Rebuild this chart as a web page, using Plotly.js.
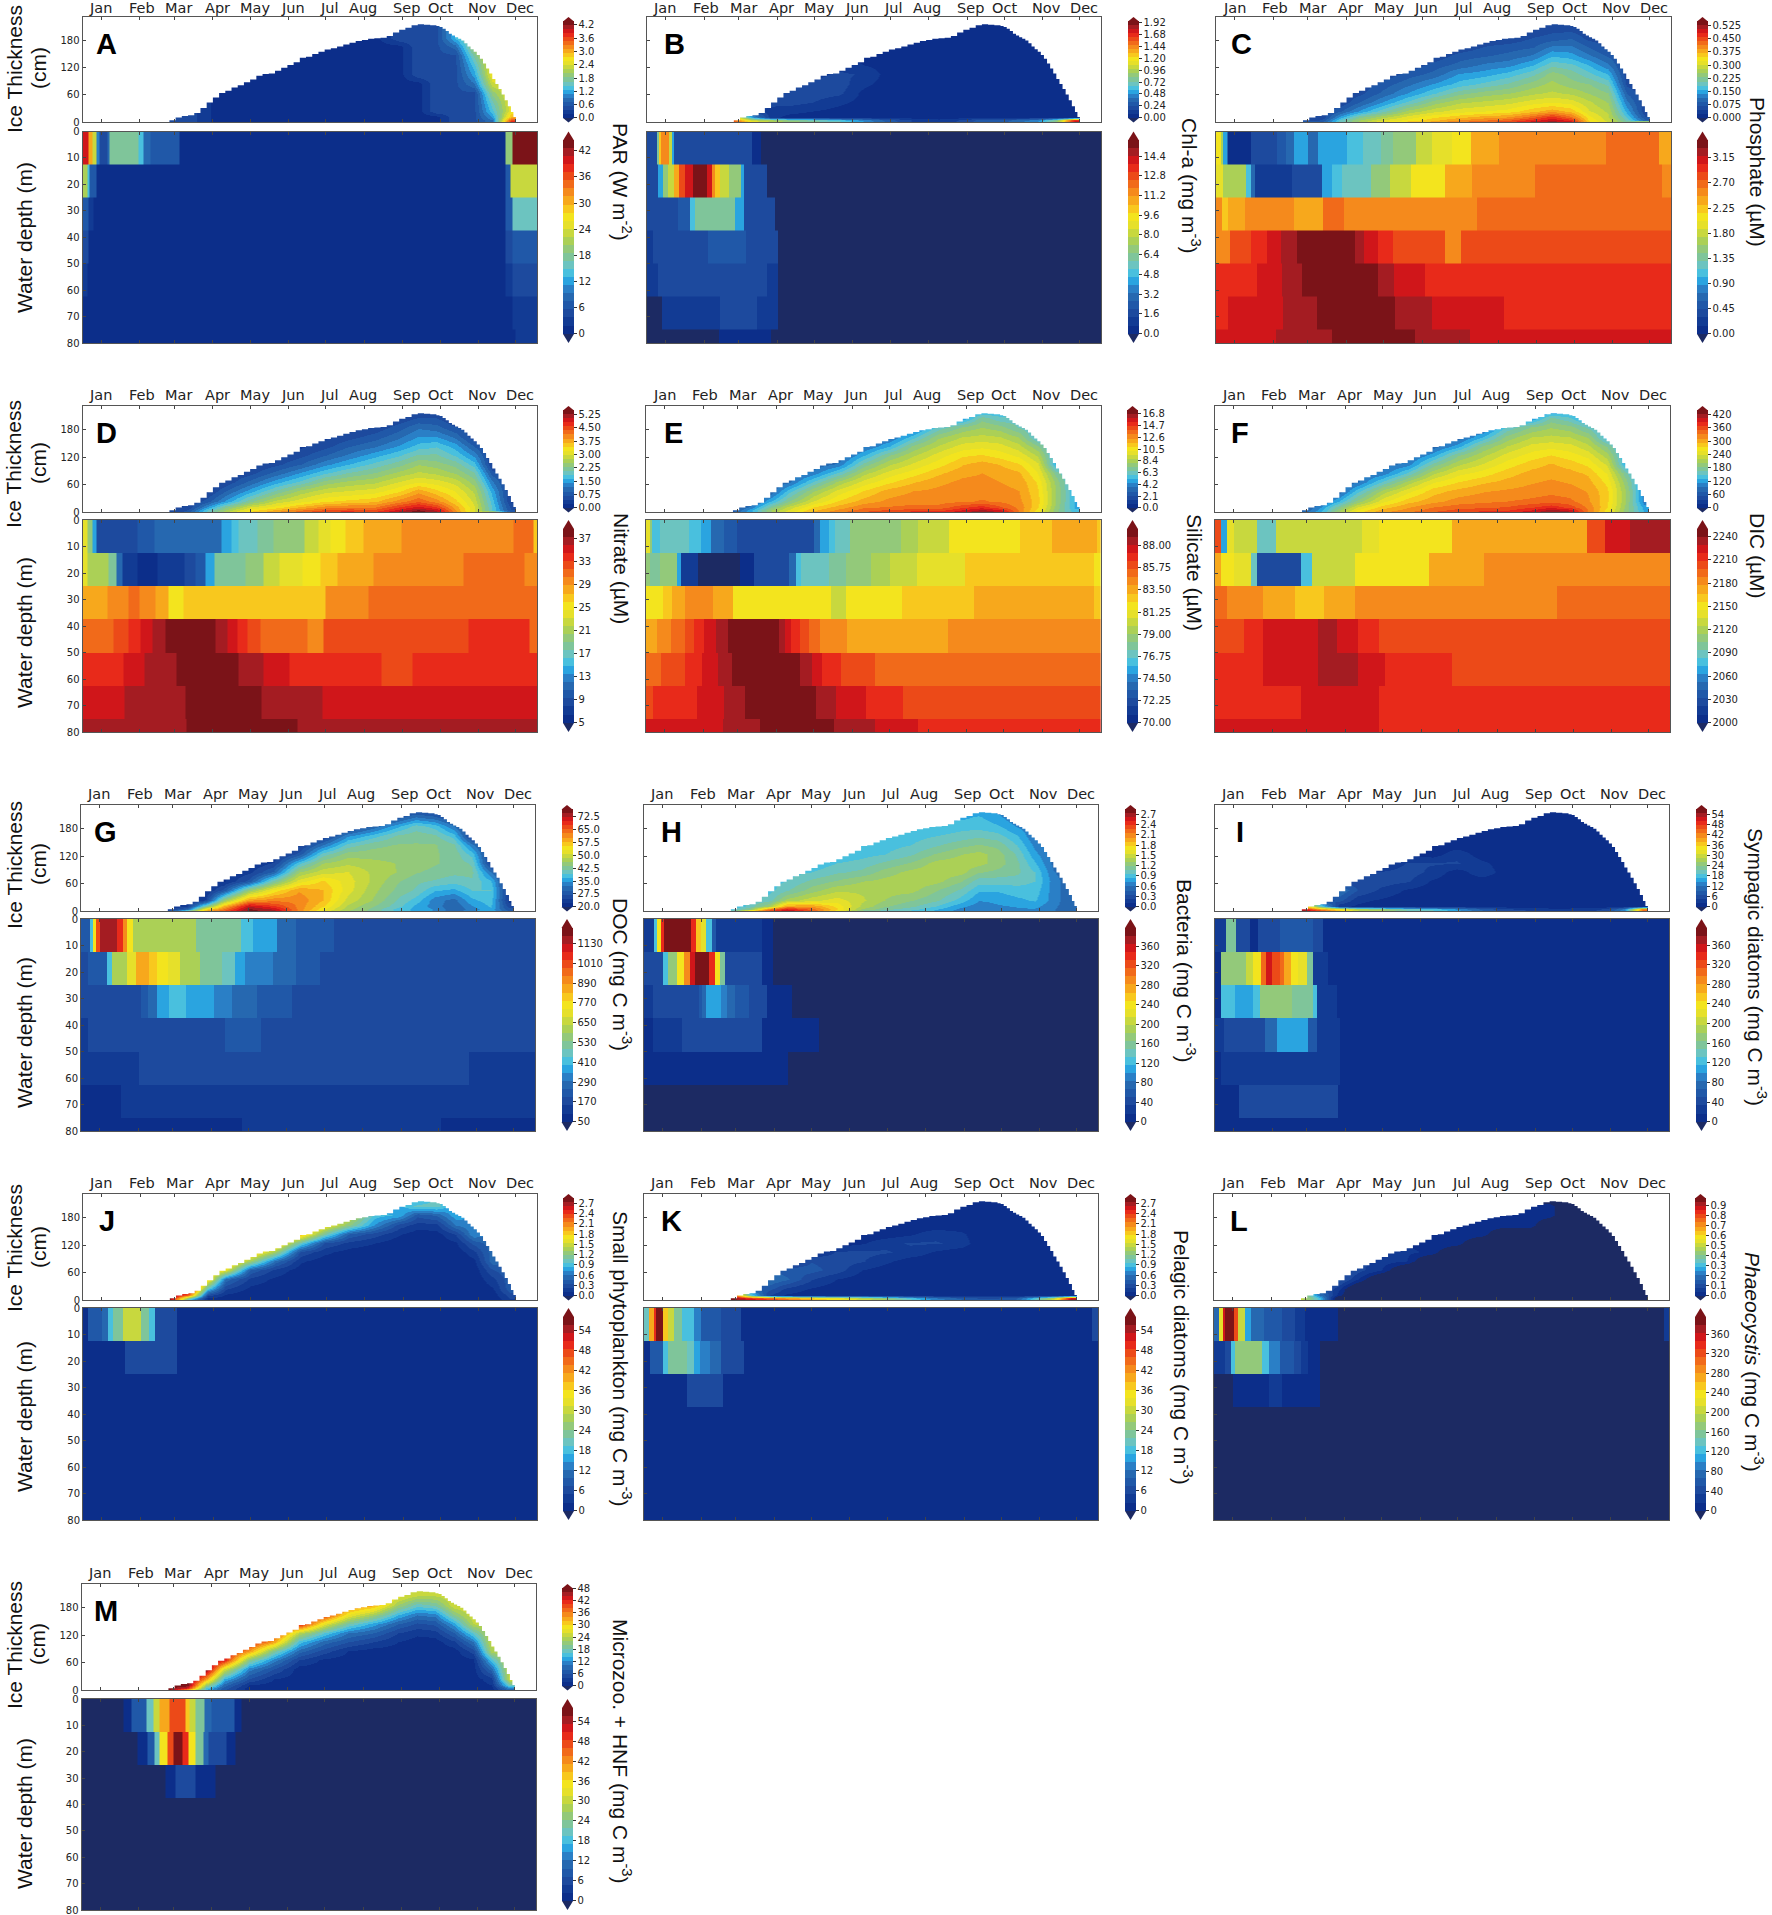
<!DOCTYPE html>
<html><head><meta charset="utf-8">
<script src="https://cdn.plot.ly/plotly-3.0.1.min.js"></script>
<style>html,body{margin:0;padding:0;background:#fff}</style></head>
<body><div id="chart" style="width:1772px;height:1915px"></div>
<script>
const W=1772,H=1915;
const monthNames=['Jan','Feb','Mar','Apr','May','Jun','Jul','Aug','Sep','Oct','Nov','Dec'];
const monthTickDays=[0,31,59,90,120,151,181,212,243,273,304,334];
const monthLabelDays=[-0.5,32.7,62.6,93.5,123.8,154.3,184,211,246,273,307,337.5];
const levelColors=['#0c2e8a','#123b94','#1d4a9e','#2058a8','#2668b0','#2a7fc6','#2aa4e0','#49c0de','#6cc4c0','#7fc59a','#93c97a','#abd056','#c8d83e','#e6e02a','#f3e41e','#f8c81e','#f7a81c','#f58a1c','#f16a1a','#ec4a18','#e82a1a','#d0161a','#a41c22','#7b1318'];
const underColor='#1c2a63';
// ice outline: thickness (cm) from each day onward
const iceDays=[55,60,65,70,75,80,85,90,95,100,105,110,115,120,125,130,135,140,145,150,155,160,165,170,175,180,185,190,195,200,205,210,215,220,225,230,235,240,245,250,255,260,265,270,272.5,275,277.5,280,282.5,285,287.5,290,292.5,295,297.5,300,302.5,305,307.5,310,312.5,315,317.5,320,322.5,325,327.5,330,332,334];
const iceThickness=[4,10,13,15,20,31,43,54,64,69,76,81,88,94,102,106,107,113,120,126,132,142,144,150,155,160,163,167,171,175,179,181,184,185,186,190,198,204,208,214,216,215,214,212,210,206,201,195,191,187,184,180,174,167,161,155,148,140,129,118,107,95,84,73,61,48,35,22,11,0];
// coarse sea-ice grid: columns are listed bottom-up, and the last value stands for anything above the ice top
const iceColumnDays=[55,70,85,100,120,140,160,180,200,220,240,255,270,285,300,315,330];
const iceRowDepths=[0,4,10,25,45,65,85,105,125,145,165,185,205,225];
const waterDepthEdges=[0,12.5,25,37.5,50,62.5,75,87.5];

const iceA=[[.5,.5,.5],[.5,.5,.5,.5],[.2],[.1],[.1],[.1],[.1],[.1],[.1],[.1],[.1,.1,.1,.1,.1,.1,.1,.1,.1,.1,.1,.5],[.1,.1,.1,.1,.1,.1,.1,.5],[.1,.1,.1,.5],[.5,.5,.5,.5,.5,.5,.5,.5,.5,.5,.8,1.3],[.5,.5,.5,.5,.5,.5,.9,1.2,1.4,1.7,2],[.9,.9,1.1,1.4,1.6,1.9,2.3,2.6],[3.8,3.6,3,2.5]];
const iceB=[[1.6,1.5,1.2],[1.2,1,.5,.2,.2],[1,.9,.1,.12,.2],[.9,.8,.06,.1,.2,.18,.15],[.8,.7,.05,.08,.16,.2,.18,.14],[.7,.6,.04,.05,.1,.18,.2,.18,.12],[.5,.45,.04,.04,.05,.05,.1,.15,.08,.05],[.3,.28,.04],[.15,.15,.04],[.1,.1,.04],[.2,.18,.04],[.3,.28,.04],[.3,.28,.04],[.4,.36,.04],[.5,.45,.04],[.9,.8,.04],[1.8,1.7,.04]];
const iceC=[[.08,.06,.05],[.1,.07,.05,.05],[.2,.19,.15,.09,.05,.05],[.26,.25,.22,.14,.09,.06,.05],[.33,.3,.27,.2,.14,.1,.08,.05],[.36,.33,.31,.26,.19,.14,.11,.08,.05],[.38,.36,.34,.29,.24,.18,.14,.1,.08,.05],[.42,.39,.36,.31,.27,.22,.17,.14,.1,.08,.05],[.44,.41,.38,.32,.28,.24,.19,.15,.12,.09,.07,.05],[.46,.43,.39,.33,.29,.25,.21,.17,.13,.1,.08,.05,.05],[.5,.47,.43,.36,.31,.27,.24,.2,.16,.12,.09,.07,.05],[.52,.5,.47,.38,.32,.28,.26,.24,.2,.16,.12,.08,.06,.05],[.5,.47,.42,.36,.31,.27,.24,.22,.19,.15,.12,.09,.06,.05],[.35,.34,.33,.3,.28,.25,.23,.19,.16,.12,.09,.06,.05],[.3,.29,.28,.27,.25,.23,.2,.16,.12,.09,.06],[.22,.2,.18,.15,.12,.09,.06,.05],[.4,.1,.07,.05]];
const iceD=[[.5,.5,.4],[.8,.7,.5,.4],[1.9,1.8,1.4,.8,.4,.4],[2.7,2.5,2.2,1.4,.9,.5,.4],[3.5,3.3,3,2.2,1.5,1,.6,.4],[3.9,3.7,3.3,2.8,2.1,1.5,1,.6,.4],[4.3,4.1,3.7,3.1,2.6,1.9,1.4,.9,.6,.4],[4.7,4.4,4,3.4,2.9,2.4,1.8,1.3,.9,.6,.4],[4.7,4.5,4.1,3.5,3,2.6,2.1,1.6,1.2,.9,.6,.4],[4.6,4.4,4.1,3.6,3.1,2.7,2.3,1.9,1.5,1.1,.8,.5,.4],[5.2,4.9,4.6,4,3.4,3,2.6,2.2,1.8,1.4,1.1,.8,.5],[5.45,5.3,4.9,4.3,3.8,3.2,2.8,2.5,2.1,1.7,1.4,1.1,.7,.4],[5.2,5,4.6,4,3.5,3.1,2.7,2.4,2.1,1.8,1.4,1,.7,.4],[4,3.9,3.8,3.5,3.2,2.9,2.5,2.2,1.8,1.5,1.1,.7,.4],[3,3,3,2.9,2.7,2.4,2.1,1.7,1.3,.9,.5],[3,1.8,1.8,1.7,1.5,1.2,.8,.4],[.8,.7,.6,.4]];
const iceE=[[3,2.5,2],[5,5,4,3],[8,8,7,5,3,3],[10,9.6,9,7.2,5.5,3.5,3],[12,11.5,11,9.5,8,6,4,3],[13,12.6,12,11,9.8,8.3,6,3.8,3],[14,13.5,13,12,11,9.8,8.5,6.8,5,3.5],[14.8,14,13.2,12.6,12,10.8,9.8,8.6,7.2,5,3.5],[15,14.2,13.4,12.8,12.4,11.6,10.6,9.6,8.6,7.4,5.5,3.5],[15,14.2,13.4,12.8,12.6,12.2,11.5,10.6,9.8,8.8,7.8,6,3.5],[16,15.4,14.4,13,12.8,12.6,12.2,11.6,10.8,9.8,8.8,7.4,4.5],[16.8,16.2,15,13.2,12.8,12.6,12.4,12,11,10,9,8,7,4],[16,15.5,14,13,12.6,12.4,12.2,11.6,10.6,9.8,8.8,7.6,6,5],[13,13,12.9,12.6,12.4,12.2,11.8,11,10,9,8,6.5,6],[10.5,10.6,11,11.2,11,10.8,10.2,9.6,8.6,7.4,5.5],[7.5,7.6,7.8,8,8,7.8,7,5],[5.5,5.3,5,5]];
const iceF=[[80,70,60],[130,120,110,80],[210,200,180,130,80,80],[270,260,240,190,140,90,80],[310,300,285,250,210,150,100,80],[330,320,310,285,250,210,150,100,80],[350,340,330,305,285,255,215,170,120,80],[370,355,340,320,300,275,250,215,180,120,80],[375,360,345,325,310,290,265,240,215,185,130,80],[380,365,350,330,315,300,285,265,245,220,190,150,90],[400,385,365,335,320,310,300,285,265,245,220,185,110],[425,410,380,340,325,315,305,295,275,250,225,200,170,90],[410,395,360,335,320,310,300,285,265,245,220,190,150,110],[330,330,325,315,310,300,290,270,250,225,200,160,110],[265,268,275,280,280,270,255,235,210,180,130],[190,192,195,200,200,190,170,120],[130,125,120,100]];
const iceG=[[27,24,22],[45,30,24,22],[60,55,42,25,22,22],[66,63,58,45,28,22,22],[76,75,72,60,45,28,24,22],[74,72,68,62,54,42,30,25,22],[62,62,62,62,60,52,46,38,28,24],[52,54,56,58,58,56,50,46,40,32,24],[46,47,48,50,52,52,51,48,45,40,34,24],[43,43,44,46,47,48,48,47,45,43,38,30,24],[38,38,40,41,43,44,46,46,45,44,42,36,28,24],[36,36,36,38,41,42,44,45,45,44,43,40,32,24],[34,34,33,33,37,41,43,44,44,44,42,38,30,24],[30,30,30,31,36,40,42,43,43,42,38,32,26,24],[34,33,34,36,39,41,42,41,38,33,25],[36,36,37,38,39,37,32,25],[30,28,26,24]];
const iceH=[[1,.9,.8],[2,1.2,1,1],[2.4,2.1,1.3,1,.9,.9],[2.7,2.5,2,1.35,1.05,.95,.9],[2.3,2.2,2,1.5,1.25,1.1,.95,.85],[1.7,1.8,1.75,1.6,1.4,1.2,1.05,.95,.85],[1.1,1.3,1.4,1.45,1.4,1.3,1.1,1,.9,.85],[.95,1.1,1.2,1.3,1.35,1.35,1.25,1.1,.95,.9,.85],[.9,1,1.1,1.2,1.35,1.38,1.35,1.2,1.05,.95,.9,.8],[.8,.85,.95,1.1,1.2,1.35,1.38,1.35,1.2,1.05,.95,.85,.8],[.65,.68,.75,.9,1.05,1.2,1.35,1.38,1.3,1.15,1,.9,.8],[.62,.62,.65,.72,.85,1,1.2,1.35,1.35,1.2,1.05,.9,.85,.7],[.68,.68,.7,.74,.85,1,1.15,1.25,1.25,1.15,1,.85,.75,.65],[.7,.7,.72,.8,.9,1,1.1,1.1,1.05,.95,.85,.7,.6],[.7,.7,.75,.85,.9,.95,.95,.85,.75,.68,.6],[.6,.6,.62,.65,.65,.65,.6,.55],[.5,.5,.5,.5]];
const iceI=[[56,52,40],[50,40,20,5],[38,34,3,8,12,5],[30,27,2,3,7,6,4],[28,25,1,2,4,6,5,2],[22,20,1,1,2,5,6,5,2],[20,18,1,1,1,2,4,5,1,1],[16,14,1,1,1,1,1,5,4,1,1],[10,9,1,1,1,1,4,3,1],[6,5,1],[5,4,1],[3,3,1],[3,3,1],[4,4,1],[6,5,1],[15,13,1],[45,42,1]];
const iceJ=[[2.8,2.8,2.8],[.8,1.2,2.2,2.8],[.05,.1,.3,.9,1.8,1.9],[.05,.06,.1,.25,.55,1.6,2],[.03,.03,.03,.08,.2,.45,1.3,1.9],[.03,.03,.03,.05,.09,.2,.55,1.3,1.9],[.03,.03,.03,.03,.03,.05,.14,.33,1,1.9],[.03,.03,.03,.03,.03,.03,.05,.15,.35,1.1,1.7],[.03,.03,.03,.03,.03,.03,.03,.06,.2,.45,1.2,1.5],[.03,.03,.03,.03,.03,.03,.03,.03,.12,.3,.7,.9,.6],[.03,.03,.03,.03,.03,.03,.03,.03,.03,.13,.3,.8,.8],[.03,.03,.03,.03,.03,.03,.03,.03,.03,.05,.18,.4,1,.7],[.03,.03,.03,.03,.03,.03,.03,.03,.03,.07,.2,.5,1,1],[.03,.03,.03,.03,.03,.03,.03,.03,.1,.25,.6,.8,.7],[.03,.03,.03,.03,.03,.03,.08,.2,.4,.7,.7],[.03,.03,.05,.1,.2,.35,.55,.55],[.2,.25,.3,.45]];
const iceK=[[2.8,2.8,2.5],[2.7,2.4,1,.5],[2.5,2.2,.25,.4,.6,.5],[2.3,2,.1,.2,.5,.4,.2],[2,1.8,.05,.1,.25,.4,.35,.1],[1.8,1.6,.04,.05,.12,.3,.3,.25,.05],[1.6,1.4,.04,.04,.05,.12,.25,.27,.1,.04],[1.4,1.2,.04,.04,.04,.05,.15,.25,.2,.05,.04],[1,.9,.04,.04,.04,.04,.05,.2,.25,.1,.04],[.7,.6,.04,.04,.04,.04,.04,.1,.25,.2,.04],[.5,.45,.04,.04,.04,.04,.04,.04,.2,.15,.04],[.4,.35,.04],[.4,.35,.04],[.5,.45,.04],[1,.9,.04],[1.6,1.4,.04],[2.8,2.6,.04]];
const iceL=[[.5,.5,.5],[.3,.3,.2,.15],[-.1,-.1,.02,.05,.14,.14],[-.1,-.1,-.1,-.1,.05,.1,.1],[-.1,-.1,-.1,-.1,-.1,.04,.06,.04],[-.1,-.1,-.1,-.1,-.1,-.1,.04,.05,.03],[-.1,-.1,-.1,-.1,-.1,-.1,-.1,.03,.04,.02],[-.1,-.1,-.1,-.1,-.1,-.1,-.1,-.1,.03,.04,.02],[-.1,-.1,-.1,-.1,-.1,-.1,-.1,-.1,-.1,.03,.04,.03],[-.1,-.1,-.1,-.1,-.1,-.1,-.1,-.1,-.1,-.1,.03,.04,.02],[-.1,-.1,-.1,-.1,-.1,-.1,-.1,-.1,-.1,-.1,.03,.04,.02],[-.1,-.1,-.1,-.1,-.1,-.1,-.1,-.1,-.1,-.1,-.1,.03,.03,-.1],[-.1],[-.1],[-.1],[-.1],[-.1]];
const iceM=[[48,48,48],[30,42,48,48],[14,16,22,34,47,47],[6,7,9,14,26,42,44],[1,1,2,6,11,20,34,42],[1,1,1,2,6,11,19,33,40],[1,1,1,1,1,4,9,15,24,42],[1,1,1,1,1,1.5,5,9,16,27,40],[1,1,1,1,1,1,2,6,10,18,28,36],[1,1,1,1,1,1,1,4,8,13,22,33,33],[1,1,1,1,1,1,1,2,4,8,14,22,27],[1,1,1,1,1,1,1,1,2.5,5.5,10,17,24,26],[1,1,1,1,1,1,1,1,3,6.5,11,18.5,24,25],[1,1,1,1,1,1,1,3.5,8,13,20,26,26],[1,1,1,1,1,1.5,5,10,16.5,24,26],[1,1,2,3,9,15,23,25],[8,12,18,26]];

// water rows: pairs of [last day of a block, value in the block]; one row per depth layer
const waterA=[[-10,40,-7,31,-4,24,-1,11,5,5,7,9,30,18,34,13,40,9,52,7,63,6,326,1,331,19,351,44],[-11,21,-9,13,-4,6,326,1,330,6,351,24],[-10,7,-6,3,326,1,331,7,351,15],[-10,5,326,1,331,4,351,7],[-11,3,326,1,331,3,351,5],[331,1,351,3],[334,1,351,2]];
const waterB=[[-7,1.5,-5.5,6,-4,10,3,11.5,5,8,7,4,70,1.9,77,.6,351,-1],[-6,1.8,-2,4.5,2,7,7,8.5,11,10.5,16,12.5,22,14,33,15.5,37,14,40,11.5,44,10,51,8.5,60.5,7,63,4.5,82,1.7,351,-1],[10,1.8,20,2.4,23.5,5,56,6,63.5,4.5,88,1.7,351,-1],[-10,1,34,1.7,65,2.2,91,1.4,351,-1],[-6,.8,30,1.4,82,1.9,91,.8,351,-1],[-3,-1,44,.7,74,1.4,91,.7,351,-1],[43,-1,85,.6,351,-1]];
const waterC=[[-11,2.1,-9,1.6,-6,1,-5,.7,13,.13,34,.35,41,.5,48,.65,59,.9,67,.7,90,.9,103,1.1,118,1.25,127,1.4,146,1.55,159,1.75,175,1.9,190,2.1,213,2.4,299,2.55,341,2.7,351,2.45],[-9,2,9,1.6,13,1.1,16,.6,46,.28,70,.42,78,.9,86,1.1,110,1.3,125,1.55,142,1.8,169,2.1,191,2.35,242,2.5,344,2.67,351,2.5],[-10,2.5,-5,2.2,8,2.43,48,2.6,71,2.45,88,2.67,195,2.5,351,2.67],[-4,2.57,13,2.78,26,3,37,3.13,50,3.27,97,3.42,104,3.27,115,3.13,127,2.95,169,2.78,182,2.6,351,2.78],[18,3,38,3.13,54,3.27,115,3.42,128,3.27,153,3.13,351,3],[-5,3,39,3.13,66,3.27,129,3.42,159,3.27,217,3.13,351,3],[33,3.13,78,3.27,145,3.42,189,3.27,351,3.13]];
const waterD=[[-11,24.5,-7,20,-4,14.4,29,8.4,43,9.4,85,11.4,97,11.7,105,14,111,15.8,126,17.5,139,18.8,164,20.2,175,21.9,185,23.5,197,25.2,211,27,242,28.3,332,29.6,348,30.3,351,27],[-11,24.5,6,20.8,12,17.8,17,11.7,29,7.4,45,6,67,7.4,76,8.4,84,9.7,91,14,116,17.8,131,19.8,144,21.9,162,23.9,177,25.2,190,27,219,28.3,292,29.6,341,31,351,29.3],[5,27.6,22,29.3,31,31,44,29.3,54,27.9,66,25.5,181,27.2,215,28.9,280,30.6,351,31.6],[10,31.3,22,33,32,34,41,35.3,52,36.7,64,37.4,92,38,102,37,110,35.3,118,34,128,32.6,166,31.3,179,30,296,32,345,33.3,351,31.3],[18,33.6,35,35,49,36,61,37,111,38,120,37,131,36,152,35,226,33.6,251,32.6,351,33.6],[19,35,47,36.3,68,37,129,38,149,37,178,36.3,351,35],[27,36.3,69,37,158,38,193,37,351,36.3]];
const waterE=[[-12,81.4,-10,78.9,-4,76.3,20,77,29,75.9,37,75.3,48,73.9,58,72.8,112,71.8,120,72.2,125,73.3,132,75.3,137,76.3,149,77.3,169,78.3,190,78.9,204,79.7,229,80.4,286,81.6,312,82.8,348,83.6,351,82.6],[-12,78.3,-4,77.5,10,78.7,13,75.5,27,71.4,61,69,72,70.8,100,71.8,106,73.9,110,75.9,132,77,146,78,166,78.9,181,79.7,203,80.2,242,81.4,346,82.6,351,81.8],[-1,81.6,6,82.8,16,83.6,39,84.6,48,83.8,55,83.4,134,81.6,146,80.4,191,81.6,249,82.6,346,83.6,351,82.8],[-6,83.4,5,84.2,16,85.2,23.5,86,32,86.7,41,87.7,51,88.5,92,89.3,97,88.5,102,87.7,109,86.7,116,86,125,85.2,147,84.2,228,83.6,351,84.4],[-3,85.2,16,86,30,86.7,43,87.7,54,88.5,109,89.3,119,88.5,127,87.7,142,86.7,169,86,351,85.2],[-9,86,26,86.7,48,87.7,65,88.5,122,89.3,138,88.5,162,87.7,192,86.7,351,86],[47,87.7,77,88.5,136,89.3,169,88.5,204,87.7,351,86.7]];
const waterF=[[-10,2205,-5,2070,0,2138,19,2125,34,2090,54,2130,103,2125,117,2138,176,2155,284,2175,299,2200,319,2220,351,2238],[-10,2175,0,2150,14,2138,19,2090,54,2030,63,2075,98,2125,157,2155,201,2170,351,2180],[-5,2195,24,2180,49,2170,73,2160,98,2175,260,2185,351,2195],[8,2203,24,2212,39,2220,68,2225,83,2235,100,2225,117,2212,351,2203],[24,2210,68,2225,100,2235,122,2225,176,2212,351,2208],[8,2210,54,2218,117,2225,151,2218,351,2212],[117,2225,351,2215]];
const waterG=[[-8,215,-5,400,-3,755,0,990,14,1166,19,1060,22,896,27,755,33,637,78,590,114,497,124,426,132,367,143,344,158,285,173,238,189,200,209,190,351,167],[-9,190,6,238,10,400,22,590,29,730,40,870,46,825,55,780,65,695,81,600,99,530,109,460,117,380,127,330,140,310,158,273,178,226,196,190,351,167],[22,155,33,180,39,238,46,285,56,355,70,400,92,367,107,310,127,262,155,215,180,180,351,155],[-9,130,101,155,130,200,183,167,351,155],[32,109,298,148,351,109],[17,73,112,109,244,120,351,109],[115,73,275,105,351,73]];
const waterH=[[-7,32,-4.5,120,-1,240,1,338,23,386,27,342,31,259,35,219,40,120,43,56,80,32,89,12,351,-1],[0,40,4,120,12,167,17,240,22,287,26,358,37,382,42,342,46,247,50,150,80,40,89,16,351,-1],[-8,28,29,44,32,60,35,80,47,107,52,85,58,72,70,50,84,36,104,8,351,-1],[-8,12,16,24,80,36,92,12,126,4,351,-1],[-1,3,89,12,101,3,351,-1],[351,-1],[351,-1]];
const waterI=[[-6,32,2,158,13,47,20,12,37,36,64,55,72,36,351,2],[-10,12,1,166,10,174,16,198,22,245,26,308,31,348,37,324,41,300,46,268,52,237,59,217,64,158,76,32,351,2],[-10,12,1,126,16,107,21,130,47,178,64,162,67,118,83,32,351,2],[-8,24,25,47,35,75,60,110,67,63,86,32,351,2],[-10,6,86,32,351,2],[4,6,84,34,351,2],[351,2]];
const waterJ=[[-11,1,0,8,5,12,9,17,17,24,32,29,38,24,43,17,61,7,351,1],[19,1,61,5,351,1],[351,1],[351,1],[351,1],[351,1],[351,1]];
const waterK=[[-11,20,-7,40,-5,49,0,56,4,38,9,29,16,24,25,17,31,14,47,9,63,6,346,1,351,6],[-10,1,0,9,4,17,20,22,25,20,30,16,38,13,47,10,66,6,351,1],[20,1,49,6,351,1],[351,1],[351,1],[351,1],[351,1]];
const waterL=[[-11,80,-8,229,-6,348,1,383,4,316,10,198,15,110,25,80,40,55,50,35,58,24,70,14,85,8,347,-1,351,20],[-6,20,-1,40,2,118,24,170,29,118,38,85,49,60,55,38,61,24,66,10,70,4,351,-1],[0,-1,29,14,40,20,70,6,351,-1],[351,-1],[351,-1],[351,-1],[351,-1]];
const waterM=[[19,-1,25,2,37,8,43,20,48,29,56,39,69,46,72,38,77,29,84,22,90,10,108,8,114,2,351,-1],[30,-1,38,2,44,8,48,20,54,35,59,46,66,56,71,49,77,36,83,24,87,12,102,6,109,2,351,-1],[53,-1,61,2,77,5,93,2,351,-1],[351,-1],[351,-1],[351,-1],[351,-1]];

// colour bar tick labels
const tA=['0.0','0.6','1.2','1.8','2.4','3.0','3.6','4.2'], bA=['0','6','12','18','24','30','36','42'];
const tB=['0.00','0.24','0.48','0.72','0.96','1.20','1.44','1.68','1.92'], bB=['0.0','1.6','3.2','4.8','6.4','8.0','9.6','11.2','12.8','14.4'];
const tC=['0.000','0.075','0.150','0.225','0.300','0.375','0.450','0.525'], bC=['0.00','0.45','0.90','1.35','1.80','2.25','2.70','3.15'];
const tD=['0.00','0.75','1.50','2.25','3.00','3.75','4.50','5.25'], bD=['5','9','13','17','21','25','29','33','37'];
const tE=['0.0','2.1','4.2','6.3','8.4','10.5','12.6','14.7','16.8'], bE=['70.00','72.25','74.50','76.75','79.00','81.25','83.50','85.75','88.00'];
const tF=['0','60','120','180','240','300','360','420'], bF=['2000','2030','2060','2090','2120','2150','2180','2210','2240'];
const tG=['20.0','27.5','35.0','42.5','50.0','57.5','65.0','72.5'], bG=['50','170','290','410','530','650','770','890','1010','1130'];
const t27=['0.0','0.3','0.6','0.9','1.2','1.5','1.8','2.1','2.4','2.7'], b360=['0','40','80','120','160','200','240','280','320','360'];
const t54=['0','6','12','18','24','30','36','42','48','54'];
const tL=['0.0','0.1','0.2','0.3','0.4','0.5','0.6','0.7','0.8','0.9'];
const tM=['0','6','12','18','24','30','36','42','48'];
const iceTicks=[0,60,120,180], iceTickText=['0','60','120','180'];
const waterTicks=[0,10,20,30,40,50,60,70,80], waterTickText=['0','10','20','30','40','50','60','70','80'];

const panels=[
 {id:'A',ice:iceA,water:waterA,x:[82.5,537],r:0,c:1,cb:563,ti:[0,4.38],bi:[0,44.5],tt:tA,bt:bA,title:'PAR (W m<sup>-2</sup>)',tx:622,ty:182},
 {id:'B',ice:iceB,water:waterB,x:[647,1101],r:0,c:2,cb:1128,ti:[0,1.95],bi:[0,15.7],tt:tB,bt:bB,title:'Chl-a (mg m<sup>-3</sup>)',tx:1191,ty:186},
 {id:'C',ice:iceC,water:waterC,x:[1216,1671],r:0,c:3,cb:1697,ti:[0,.55],bi:[0,3.47],tt:tC,bt:bC,title:'Phosphate (µM)',tx:1758,ty:172},
 {id:'D',ice:iceD,water:waterD,x:[82.5,537],r:1,c:1,cb:563,ti:[0,5.5],bi:[5,38.7],tt:tD,bt:bD,title:'Nitrate (µM)',tx:622,ty:568},
 {id:'E',ice:iceE,water:waterE,x:[646,1100.7],r:1,c:2,cb:1127,ti:[0,17.5],bi:[70,89.7],tt:tE,bt:bE,title:'Silicate (µM)',tx:1195,ty:572},
 {id:'F',ice:iceF,water:waterF,x:[1215,1670],r:1,c:3,cb:1697,ti:[0,440],bi:[2000,2250],tt:tF,bt:bF,title:'DIC (µM)',tx:1758,ty:556},
 {id:'G',ice:iceG,water:waterG,x:[81,535],r:2,c:1,cb:561.5,ti:[20,77],bi:[50,1225],tt:tG,bt:bG,title:'DOC (mg C m<sup>-3</sup>)',tx:622,ty:974},
 {id:'H',ice:iceH,water:waterH,x:[644,1098],r:2,c:2,cb:1125,ti:[0,2.85],bi:[0,398],tt:t27,bt:b360,title:'Bacteria (mg C m<sup>-3</sup>)',tx:1186,ty:970},
 {id:'I',ice:iceI,water:waterI,x:[1215,1669],r:2,c:3,cb:1696,ti:[0,57],bi:[0,395],tt:t54,bt:b360,title:'Sympagic diatoms (mg C m<sup>-3</sup>)',tx:1757,ty:967},
 {id:'J',ice:iceJ,water:waterJ,x:[83,537],r:3,c:1,cb:563,ti:[0,2.85],bi:[0,58],tt:t27,bt:t54,title:'Small phytoplankton (mg C m<sup>-3</sup>)',tx:622,ty:1359},
 {id:'K',ice:iceK,water:waterK,x:[644,1098],r:3,c:2,cb:1125,ti:[0,2.85],bi:[0,58],tt:t27,bt:t54,title:'Pelagic diatoms (mg C m<sup>-3</sup>)',tx:1183,ty:1357},
 {id:'L',ice:iceL,water:waterL,x:[1214,1669],r:3,c:3,cb:1695,ti:[0,.97],bi:[0,395],tt:tL,bt:b360,title:'<i>Phaeocystis</i> (mg C m<sup>-3</sup>)',tx:1754,ty:1362},
 {id:'M',ice:iceM,water:waterM,x:[81.5,536],r:4,c:1,cb:562,ti:[0,48.2],bi:[0,58],tt:tM,bt:t54,title:'Microzoo. + HNF (mg C m<sup>-3</sup>)',tx:622,ty:1751}
];
const rowsY=[[17,122,131.5,343],[406,512,520,732],[805,911,919,1131],[1194,1300,1308,1520],[1584,1690,1699,1910]];
const iceLabelY=[69,464,865,1248,1645], cmLabelY=[68,463,864,1247,1644], waterLabelY=[238,633,1033,1417,1814];

function scale(){
  const e=0.002/1.002, n=levelColors.length, s=[[0,underColor],[e,underColor]];
  levelColors.forEach((c,i)=>{s.push([e+(1-e)*i/n,c]);s.push([e+(1-e)*(i+1)/n,c]);});
  s[2][0]=e+1e-6;
  return s;
}
function bar(ticks,x,y0,y1,tri){
  const vals=ticks.map(Number);
  return {x:x/W,xanchor:'left',xpad:0,ypad:0,y:(H-(y1-tri))/H,yanchor:'bottom',lenmode:'pixels',len:y1-y0-2*tri,thicknessmode:'pixels',thickness:11,
    outlinewidth:0,tickmode:'array',tickvals:vals,ticktext:ticks,ticks:'outside',ticklen:3,tickwidth:1,tickcolor:'#333',
    tickfont:{family:'DejaVu Sans',size:10,color:'#222'}};
}
function iceMatrix(cols){
  return iceRowDepths.map((_,r)=>cols.map(c=>r<c.length?c[r]:c[c.length-1]));
}
function waterMatrix(rows){
  const set=new Set([-15]); rows.forEach(r=>{for(let i=0;i<r.length;i+=2)set.add(r[i]);});
  const edges=[...set].sort((a,b)=>a-b);
  const z=rows.map(r=>edges.slice(1).map(e=>{for(let i=0;i<r.length;i+=2)if(r[i]>=e)return r[i+1];return r[r.length-1];}));
  return {edges,z};
}
const traces=[],layout={width:W,height:H,margin:{l:0,r:0,t:0,b:0,autoexpand:false},showlegend:false,paper_bgcolor:'#fff',plot_bgcolor:'#fff',
  font:{family:'DejaVu Sans',color:'#222'},annotations:[],shapes:[]};
const frame={showgrid:false,zeroline:false,showline:true,linecolor:'#555',linewidth:1,ticks:'inside',ticklen:3,tickwidth:1,tickcolor:'#444',ticklabeloverflow:'allow',tickfont:{family:'DejaVu Sans',size:10,color:'#222'}};
function note(o){layout.annotations.push(Object.assign({showarrow:false,xref:'paper',yref:'paper',xanchor:'center',yanchor:'middle'},o));}
function tri(x,y0,y1,h,col,up){
  const xl=x/W,xr=(x+11)/W,xm=(x+5.5)/W,a=up?(H-y0-h)/H:(H-y1+h)/H,b=up?(H-y0)/H:(H-y1)/H;
  layout.shapes.push({type:'path',xref:'paper',yref:'paper',path:`M ${xl} ${a} L ${xr} ${a} L ${xm} ${b} Z`,fillcolor:col,line:{width:0}});
}
panels.forEach((p,i)=>{
  const [t0,t1,b0,b1]=rowsY[p.r], n1=2*i+1, n2=2*i+2;
  const dom=[p.x[0]/W,p.x[1]/W], lab=p.c===1;
  layout['xaxis'+n1]=Object.assign({},frame,{domain:dom,anchor:'y'+n1,range:[-15,351],tickmode:'array',tickvals:monthTickDays,showticklabels:false,mirror:'ticks'});
  layout['yaxis'+n1]=Object.assign({},frame,{domain:[(H-t1)/H,(H-t0)/H],anchor:'x'+n1,range:[0,232],tickmode:'array',tickvals:iceTicks,ticktext:iceTickText,showticklabels:lab,mirror:true});
  layout['xaxis'+n2]=Object.assign({},frame,{domain:dom,anchor:'y'+n2,range:[-15,351],tickmode:'array',tickvals:monthTickDays,showticklabels:false,mirror:'ticks'});
  layout['yaxis'+n2]=Object.assign({},frame,{domain:[(H-b1)/H,(H-b0)/H],anchor:'x'+n2,range:[80,0],tickmode:'array',tickvals:waterTicks,ticktext:waterTickText,showticklabels:lab,mirror:true});
  const tz=p.ti[0]-(p.ti[1]-p.ti[0])*0.002, bz=p.bi[0]-(p.bi[1]-p.bi[0])*0.002;
  traces.push({type:'heatmap',x:iceColumnDays,y:iceRowDepths,z:iceMatrix(p.ice),zsmooth:'best',zmin:tz,zmax:p.ti[1],colorscale:scale(),colorbar:bar(p.tt,p.cb,t0,t1+0.5,4.5),xaxis:'x'+n1,yaxis:'y'+n1,hoverinfo:'skip'});
  traces.push({type:'scatter',mode:'lines',x:[-15,351],y:[232,232],line:{width:0},xaxis:'x'+n1,yaxis:'y'+n1,hoverinfo:'skip'});
  traces.push({type:'scatter',mode:'lines',x:[-15].concat(iceDays,[351]),y:[0].concat(iceThickness,[0]),line:{width:0,shape:'hv'},fill:'tonexty',fillcolor:'#ffffff',xaxis:'x'+n1,yaxis:'y'+n1,hoverinfo:'skip'});
  const w=waterMatrix(p.water);
  traces.push({type:'heatmap',x:w.edges,y:waterDepthEdges,z:w.z,zmin:bz,zmax:p.bi[1],colorscale:scale(),colorbar:bar(p.bt,p.cb,b0,b1,9),xaxis:'x'+n2,yaxis:'y'+n2,hoverinfo:'skip'});
  tri(p.cb,t0,t1+.5,4.5,levelColors[23],true); tri(p.cb,t0,t1+.5,4.5,underColor,false);
  tri(p.cb,b0,b1,9,levelColors[23],true); tri(p.cb,b0,b1,9,underColor,false);
  const monthGap=p.r===0?8.5:11;
  monthNames.forEach((m,k)=>note({text:m,xref:'x'+n1,x:monthLabelDays[k],y:(H-(t0-monthGap))/H,font:{family:'DejaVu Sans',size:14.5,color:'#222'}}));
  const lx=p.x[0]+(p.c===1?24:p.c===2?27:25);
  note({text:'<b>'+p.id+'</b>',x:lx/W,y:(H-(t0+27))/H,font:{family:'Liberation Sans',size:29,color:'#000'}});
  note({text:p.title,x:p.tx/W,y:(H-p.ty)/H,textangle:90,font:{family:'Liberation Sans',size:21,color:'#111'}});
  if(p.c===1){
    note({text:'Ice Thickness',x:14/W,y:(H-iceLabelY[p.r])/H,textangle:-90,font:{family:'Liberation Sans',size:21,color:'#111'}});
    note({text:'(cm)',x:38/W,y:(H-cmLabelY[p.r])/H,textangle:-90,font:{family:'Liberation Sans',size:21,color:'#111'}});
    note({text:'Water depth (m)',x:24/W,y:(H-waterLabelY[p.r])/H,textangle:-90,font:{family:'Liberation Sans',size:21,color:'#111'}});
  }
});
Plotly.newPlot('chart',traces,layout,{staticPlot:true,displayModeBar:false});
</script></body></html>
